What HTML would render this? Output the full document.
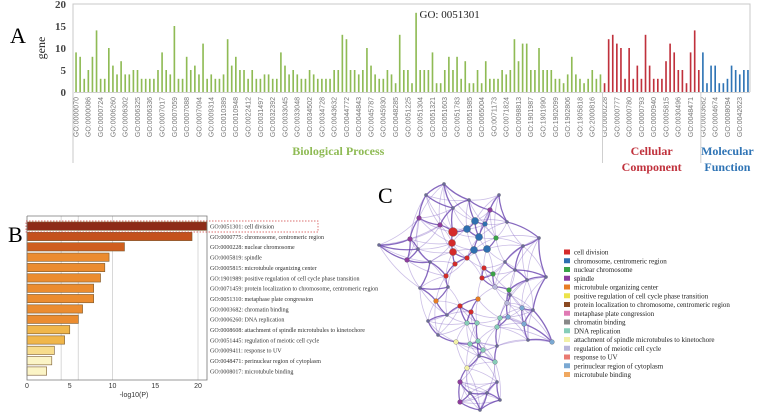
<!DOCTYPE html>
<html><head><meta charset="utf-8"><style>
html,body{margin:0;padding:0;background:#fff;}
svg{display:block;font-family:"Liberation Serif",serif;}
</style></head><body>
<svg id="fig" width="758" height="416" viewBox="0 0 758 416">
<g id="pa"></g>
<g id="pb"></g>
<g id="pc"></g>
</svg>
<script>
// ---- Panel A data ----
const bpValues=[9,8,3,5,8,14,3,3,10,6,4,7,4,4,5,5,3,3,3,3,5,9,5,4,15,3,3,8,5,6,4,11,3,4,3,3,4,12,6,8,5,5,3,5,3,3,4,4,3,3,9,6,4,5,4,3,3,5,4,3,3,3,3,5,5,13,12,5,5,4,5,10,6,4,3,3,5,4,2,13,5,5,2,18,5,5,5,9,2,2,5,8,5,8,3,7,2,2,5,2,7,3,3,3,5,4,5,12,7,11,11,5,5,10,5,5,5,3,3,2,4,8,4,3,2,3,5,3,4];
const ccValues=[2,12,13,11,10,3,10,3,6,3,13,6,3,3,3,7,11,9,5,5,2,9,14,5];
const mfValues=[9,2,6,6,2,2,3,6,5,4,5,5];
const bpLabels=["0000070","0000086","0000724","0006260","0006302","0006325","0006336","0007017","0007059","0007088","0007094","0009314","0010389","0010948","0022412","0031497","0032392","0033045","0033048","0034502","0034728","0043632","0044772","0044843","0045787","0045930","0048285","0051225","0051304","0051321","0051603","0051783","0051985","0065004","0071173","0071824","0098813","1901987","1901990","1902099","1902806","1905818","2000816"];
const ccLabels=["0000228","0000777","0000780","0000793","0000940","0005815","0030496","0048471"];
const mfLabels=["0003682","0004674","0008094","0042623"];
const yTicksA=[0,5,10,15,20];
// ---- Panel B data ----
const bTerms=["GO:0051301: cell division","GO:0000775: chromosome, centromeric region","GO:0000228: nuclear chromosome","GO:0005819: spindle","GO:0005815: microtubule organizing center","GO:1901989: positive regulation of cell cycle phase transition","GO:0071459: protein localization to chromosome, centromeric region","GO:0051310: metaphase plate congression","GO:0003682: chromatin binding","GO:0006260: DNA replication","GO:0008608: attachment of spindle microtubules to kinetochore","GO:0051445: regulation of meiotic cell cycle","GO:0009411: response to UV","GO:0048471: perinuclear region of cytoplasm","GO:0008017: microtubule binding"];
const bValues=[21.5,19.3,11.4,9.6,9.1,8.6,7.8,7.8,6.5,6.0,5.0,4.4,3.2,2.9,2.3];
const bColors=["#8e2a18","#c4511c","#cf5e1e","#eb8c30","#eb8c30","#eb8c30","#eb8c30","#eb8c30","#eb8c30","#eb8c30","#f0b64a","#f0b64a","#f7dc8c","#fbf4c6","#fbf4c6"];
const xTicksB=[0,5,10,15,20];
// ---- Panel C legend ----
const legendNames=["cell division","chromosome, centromeric region","nuclear chromosome","spindle","microtubule organizing center","positive regulation of cell cycle phase transition","protein localization to chromosome, centromeric region","metaphase plate congression","chromatin binding","DNA replication","attachment of spindle microtubules to kinetochore","regulation of meiotic cell cycle","response to UV","perinuclear region of cytoplasm","microtubule binding"];
const legendColors=["#d42a2a","#2e6fb0","#3aa348","#8e3c9e","#e87d24","#ece34a","#8b4a22","#e07ab4","#888888","#86cdb8","#f2f0a6","#b8b6da","#ea7a72","#7aa8d2","#f0a860"];

const NS="http://www.w3.org/2000/svg";
function mk(tag,attrs,parent,txt){const e=document.createElementNS(NS,tag);for(const k in attrs)e.setAttribute(k,attrs[k]);if(txt!==undefined)e.textContent=txt;parent.appendChild(e);return e;}

// ===== Panel A =====
const pa=document.getElementById('pa');
const ax0=74,ax1=750,ay0=92,ayTop=4;
const total=bpValues.length+ccValues.length+mfValues.length;
const bw=(ax1-ax0)/total;
const yA=v=>ay0-(v/20)*(ay0-ayTop);
const xA=i=>ax0+i*bw;
let t=mk('text',{x:10,y:43,'font-size':22},pa,'A');

let l=mk('path',{d:`M${ax0-1} 163 V${ayTop} H${ax1} V${ay0}`,fill:'none',stroke:'#c8c8c8','stroke-width':1},pa);

yTicksA.forEach(v=>{const e=mk('text',{x:66,y:yA(v)+4,'font-size':11,'font-weight':'bold','text-anchor':'end',fill:'#444'},pa,String(v));
});
t=mk('text',{x:45,y:48,'font-size':12,'text-anchor':'middle',transform:'rotate(-90 45 48)',fill:'#222'},pa,'gene');

function drawGroup(vals,labels,start,color,prefix){
  vals.forEach((v,i)=>{const x=xA(start+i)+bw*0.3;
    const r=mk('rect',{x:x,y:yA(v),width:Math.max(1.3,bw*0.4),height:ay0-yA(v),fill:color},pa);
    });
  labels.forEach((lab,k)=>{const x=xA(start+k*3)+bw*0.6+2;
    const e=mk('text',{x:x,y:97,'font-size':7,fill:'#777','font-family':'Liberation Sans, sans-serif','text-anchor':'end',transform:`rotate(-90 ${x} 97)`},pa,'GO:'+lab);
    });
}
drawGroup(bpValues,bpLabels,0,'#8fbb55','bp');
drawGroup(ccValues,ccLabels,bpValues.length,'#c0313c','cc');
drawGroup(mfValues,mfLabels,bpValues.length+ccValues.length,'#2f74b5','mf');
l=mk('line',{x1:ax0,y1:ay0+0.5,x2:ax1,y2:ay0+0.5,stroke:'#d0d0d0'},pa);

[bpValues.length,bpValues.length+ccValues.length].forEach(i=>{const e=mk('line',{x1:xA(i),y1:ay0,x2:xA(i),y2:163,stroke:'#cfcfcf'},pa);
});
const peak=bpValues.indexOf(Math.max(...bpValues));
t=mk('text',{x:xA(peak)+bw*0.6+3,y:18,'font-size':11,fill:'#222'},pa,'GO: 0051301');

t=mk('text',{x:(xA(0)+xA(bpValues.length))/2,y:155,'font-size':12,'font-weight':'bold',fill:'#8fbb55','text-anchor':'middle'},pa,'Biological Process');

const ccMid=(xA(bpValues.length)+xA(bpValues.length+ccValues.length))/2;
t=mk('text',{x:ccMid,y:155,'font-size':12,'font-weight':'bold',fill:'#c0313c','text-anchor':'middle'},pa,'Cellular');

t=mk('text',{x:ccMid,y:171,'font-size':12,'font-weight':'bold',fill:'#c0313c','text-anchor':'middle'},pa,'Component');

const mfMid=(xA(bpValues.length+ccValues.length)+ax1)/2+2;
t=mk('text',{x:mfMid,y:155,'font-size':12,'font-weight':'bold',fill:'#2f74b5','text-anchor':'middle'},pa,'Molecular');

t=mk('text',{x:mfMid,y:171,'font-size':12,'font-weight':'bold',fill:'#2f74b5','text-anchor':'middle'},pa,'Function');


// ===== Panel B =====
const pb=document.getElementById('pb');
const bx0=27,bx1=207,by0=216,by1=380;
const xB=v=>bx0+v*(195-bx0+3)/20;
t=mk('text',{x:8,y:242,'font-size':22},pb,'B');

[4,6,10,20].forEach(v=>{const e=mk('line',{x1:xB(v),y1:by0,x2:xB(v),y2:by1,stroke:'#d8d8d8'},pb);
});
const rowH=10.35;
bValues.forEach((v,i)=>{const y=222+i*rowH;const w=Math.min(xB(v),bx1)-bx0;
  const r=mk('rect',{x:bx0,y:y,width:w,height:8.3,fill:bColors[i],stroke:'#7a5a30','stroke-width':0.6},pb);
  
  const e=mk('text',{x:210,y:y+6.5,'font-size':6,fill:'#333'},pb,bTerms[i]);
  });
l=mk('path',{d:`M${bx0} ${by0} V${by1} H${bx1} V${by0} H${bx0}`,fill:'none',stroke:'#777','stroke-width':0.8},pb);

xTicksB.forEach(v=>{const e=mk('text',{x:xB(v),y:388,'font-size':7,'text-anchor':'middle',fill:'#333','font-family':'Liberation Sans, sans-serif'},pb,String(v));
});
t=mk('text',{x:134,y:397,'font-size':7,'text-anchor':'middle',fill:'#333','font-family':'Liberation Sans, sans-serif'},pb,'-log10(P)');

l=mk('rect',{x:26,y:221,width:292,height:11,fill:'none',stroke:'#d04040','stroke-width':0.7,'stroke-dasharray':'1.5,1.5'},pb);


// ===== Panel C =====
const pc=document.getElementById('pc');
t=mk('text',{x:378,y:203,'font-size':22},pc,'C');

const nodes=[[444,184,8],[426,195,8],[469,200,8],[499,195,8],[453,208,8],[419,218,3],[453,232,0],[467,229,1],[475,221,1],[485,224,1],[479,237,1],[452,243,0],[474,250,1],[487,249,1],[496,238,2],[507,222,8],[453,252,0],[467,258,0],[455,264,0],[484,268,0],[482,278,0],[493,274,2],[446,276,0],[379,245,8],[407,260,3],[418,249,8],[410,239,3],[523,246,8],[539,238,8],[546,277,8],[527,280,8],[509,290,2],[495,287,11],[478,299,4],[460,306,0],[471,312,0],[436,301,4],[507,303,11],[420,288,8],[448,287,8],[447,315,8],[428,321,8],[438,335,8],[467,323,9],[477,323,9],[497,327,9],[508,317,13],[522,308,13],[533,310,8],[524,324,13],[552,342,13],[528,340,8],[456,342,10],[470,344,9],[478,341,9],[483,350,9],[497,346,8],[495,362,9],[467,368,10],[479,356,8],[460,382,3],[497,382,8],[460,402,3],[500,400,8],[480,410,8],[470,393,8],[487,393,8],[510,295,8],[500,318,9],[430,262,8],[505,262,8],[440,225,3],[515,270,8],[490,210,3]];
const big=[6,11,16,7,8,10,12,13];
const eg=mk('g',{},pc);
const seen={};
nodes.forEach((a,i)=>{const d=nodes.map((b,j)=>[j,(a[0]-b[0])**2+(a[1]-b[1])**2]).filter(p=>p[0]!==i).sort((p,q)=>p[1]-q[1]);
  d.slice(0,7).forEach(([j],k)=>{const key=Math.min(i,j)+'-'+Math.max(i,j);if(seen[key])return;seen[key]=1;
    const b=nodes[j];const mx=(a[0]+b[0])/2+(a[1]-b[1])*0.12,my=(a[1]+b[1])/2-(a[0]-b[0])*0.12;
    const e=mk('path',{d:`M${a[0]} ${a[1]} Q${mx} ${my} ${b[0]} ${b[1]}`,fill:'none',stroke:k<3?'rgba(95,55,170,0.75)':'rgba(140,110,200,0.45)','stroke-width':k<3?1.3:0.8},eg);
    });});
nodes.forEach((n,i)=>{const r=big.includes(i)?(i===6?4.5:3.6):(n[2]===8?1.6:2.4);
  const c=mk('circle',{cx:n[0],cy:n[1],r:r,fill:n[2]===8?'#6a6a9a':legendColors[n[2]],stroke:'#555','stroke-width':0.3},pc);
  });
legendNames.forEach((nm,i)=>{const y=252+i*8.75;
  const r=mk('rect',{x:564,y:y-2.5,width:6,height:5,fill:legendColors[i]},pc);
  
  const e=mk('text',{x:574,y:y+2.5,'font-size':7,fill:'#222'},pc,nm);
  });
</script>
</body></html>
